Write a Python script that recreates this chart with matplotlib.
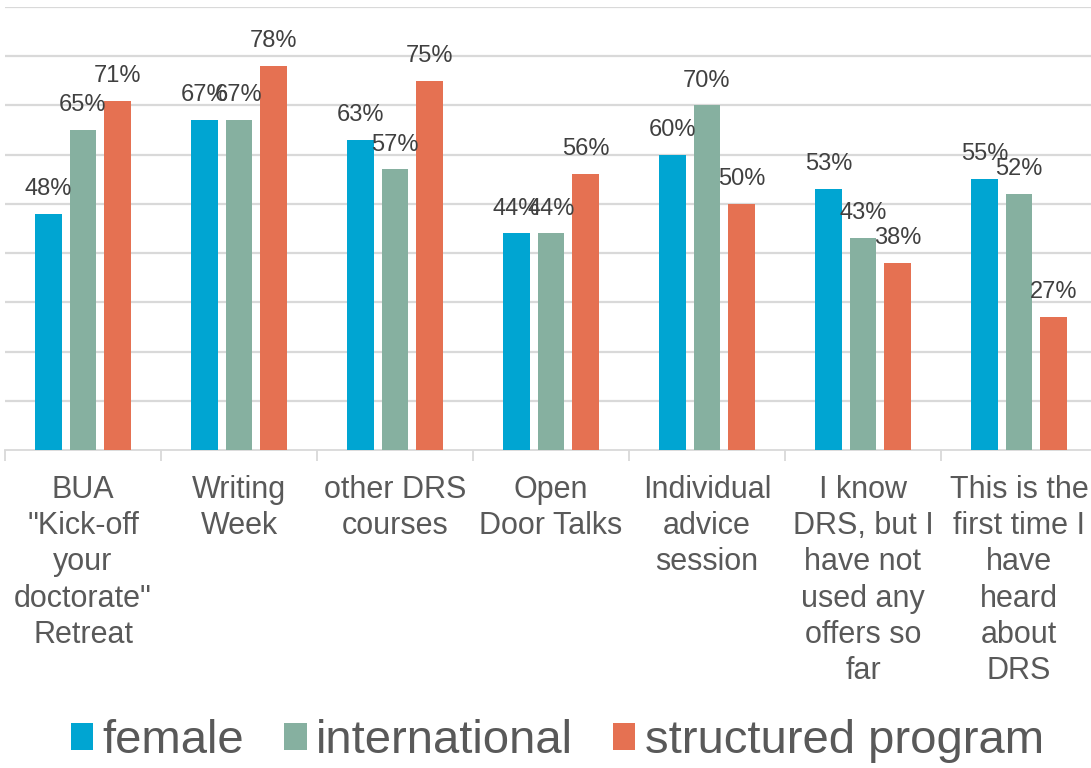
import numpy as np
import matplotlib.pyplot as plt

# categories and values (percent)
categories = ['BUA\n"Kick-off\nyour\ndoctorate"\nRetreat',
              'Writing\nWeek',
              'other DRS\ncourses',
              'Open\nDoor Talks',
              'Individual\nadvice\nsession',
              'I know\nDRS, but I\nhave not\nused any\noffers so\nfar',
              'This is the\nfirst time I\nhave\nheard\nabout\nDRS']
female = [48, 67, 63, 44, 60, 53, 55]
international = [65, 67, 57, 44, 70, 43, 52]
structured = [71, 78, 75, 56, 50, 38, 27]

series_names = ['female', 'international', 'structured program']
colors = ['#00A5D2', '#86B0A0', '#E57152']

plt.rcParams['font.family'] = ['Liberation Sans', 'DejaVu Sans']

fig = plt.figure(figsize=(10.91, 7.68), dpi=100)
ax = fig.add_axes([5 / 1091, 318 / 768, 1092 / 1091, 443 / 768])

x = np.arange(len(categories))
step = 0.222
width = 0.173
for i, (vals, name, c) in enumerate(zip([female, international, structured], series_names, colors)):
    pos = x + (i - 1) * step
    ax.bar(pos, vals, width, color=c, label=name, zorder=3)
    for px, v in zip(pos, vals):
        ax.annotate(f"{v}%", (px, v), textcoords="offset points", xytext=(0, 10),
                    ha='center', va='bottom', fontsize=17, color='#404040', zorder=4)

ax.set_xlim(-0.5, len(categories) - 0.5)
ax.set_ylim(0, 90)
ax.set_yticks(np.arange(10, 91, 10))
ax.yaxis.grid(True, color='#d9d9d9', linewidth=1.6, zorder=0)
ax.tick_params(axis='y', length=0, labelleft=False)

ax.set_xticks(x)
ax.set_xticklabels(categories, fontsize=22, color='#595959', linespacing=1.27)
ax.set_xticks(np.arange(-0.5, len(categories), 1.0), minor=True)
ax.tick_params(axis='x', which='major', length=0, pad=18)
ax.tick_params(axis='x', which='minor', length=8, color='#d9d9d9', width=1.3)

for s in ['top', 'right', 'left']:
    ax.spines[s].set_visible(False)
ax.spines['bottom'].set_color('#d9d9d9')
ax.spines['bottom'].set_linewidth(1.3)

fig.legend(loc='center', bbox_to_anchor=(0.511, 0.035), ncol=3, frameon=False,
           fontsize=34, handlelength=0.47, handleheight=0.5, handletextpad=0.2,
           columnspacing=0.85, labelcolor='#595959')

fig.savefig('out.png', dpi=100)
